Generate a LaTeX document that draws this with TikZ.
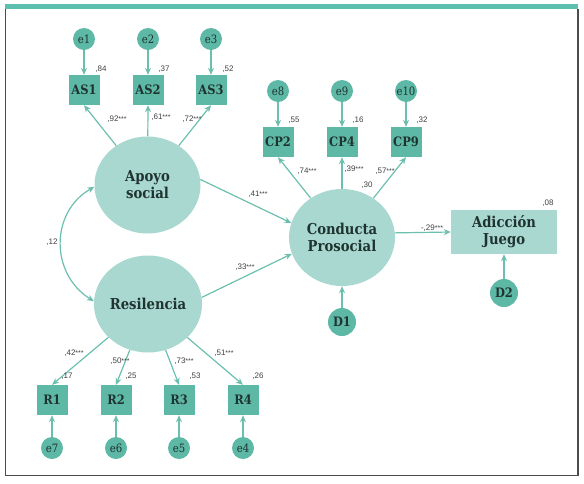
\documentclass[tikz,border=0pt]{standalone}
\usepackage{fontspec}
\setmainfont{DejaVu Serif}
\newfontfamily\slab[FakeStretch=0.88]{DejaVu Serif}
\newfontfamily\lblfont{Liberation Sans}
\usetikzlibrary{shapes.geometric,arrows.meta}
\definecolor{boxc}{HTML}{5DB8A6}
\definecolor{latc}{HTML}{A8D8CF}
\definecolor{arrc}{HTML}{6BBFAE}
\definecolor{txtc}{HTML}{1F3330}
\definecolor{barc}{HTML}{5DBFAE}
\newcommand{\st}{{\fontsize{7}{7}\selectfont***}}
\begin{document}
\begin{tikzpicture}[x=1pt,y=-1pt,
 obs/.style={fill=boxc, minimum width=31pt, minimum height=30pt, inner sep=0pt, font=\slab\bfseries\fontsize{13}{14}\selectfont, text=txtc},
 err/.style={circle, fill=boxc, minimum size=22pt, inner sep=0pt, font=\slab\fontsize{11.5}{12}\selectfont, text=txtc},
 dist/.style={circle, fill=boxc, minimum size=28pt, inner sep=0pt, font=\slab\bfseries\fontsize{13}{14}\selectfont, text=txtc},
 lat/.style={ellipse, fill=latc, minimum width=106pt, minimum height=97pt, inner sep=0pt, align=center, font=\slab\bfseries\fontsize{15}{17}\selectfont, text=txtc},
 lbl/.style={font=\lblfont\fontsize{8}{8}\selectfont, text=black!75, inner sep=0pt},
 arr/.style={draw=arrc, line width=1.2pt, -{Stealth[length=7pt,width=6pt]}},
]
\useasboundingbox (0,0) rectangle (584,483);
% frame
\fill[barc] (5,4) rectangle (578,9);
\draw[line width=1.2pt, black!70] (5.5,9) -- (5.5,475.5) -- (578,475.5) -- (578,9);

% latent variables
\node[lat] (Apoyo) at (147.5,185) {Apoyo\\social};
\node[lat] (Res) at (148,304) {Resilencia};
\node[lat] (Cond) at (342,237.5) {Conducta\\Prosocial};
\node[fill=latc, minimum width=106pt, minimum height=44pt, inner sep=0pt, align=center, font=\slab\bfseries\fontsize{15}{17}\selectfont, text=txtc] (Adic) at (504,232) {Adicción\\Juego};

% observed
\node[obs] (AS1) at (84,90) {AS1};
\node[obs] (AS2) at (148,90) {AS2};
\node[obs] (AS3) at (211,90) {AS3};
\node[obs] (CP2) at (278,142) {CP2};
\node[obs] (CP4) at (342,142) {CP4};
\node[obs] (CP9) at (406,142) {CP9};
\node[obs] (R1) at (52,400) {R1};
\node[obs] (R2) at (116,400) {R2};
\node[obs] (R3) at (179,400) {R3};
\node[obs] (R4) at (243,400) {R4};

% errors
\node[err] (e1) at (84,39) {e1};
\node[err] (e2) at (148,39) {e2};
\node[err] (e3) at (211,39) {e3};
\node[err] (e8) at (278,91) {e8};
\node[err] (e9) at (342,91) {e9};
\node[err] (e10) at (406,91) {e10};
\node[err] (e7) at (52,448) {e7};
\node[err] (e6) at (116,448) {e6};
\node[err] (e5) at (179,448) {e5};
\node[err] (e4) at (243,448) {e4};
\node[dist] (D1) at (342,322) {D1};
\node[dist] (D2) at (504,293) {D2};

% error arrows
\foreach \e/\o in {e1/AS1,e2/AS2,e3/AS3,e8/CP2,e9/CP4,e10/CP9,e7/R1,e6/R2,e5/R3,e4/R4,D1/Cond,D2/Adic}
  \draw[arr] (\e) -- (\o);

% loadings
\foreach \o in {AS1,AS2,AS3} \draw[arr] (Apoyo) -- (\o.south);
\foreach \o in {CP2,CP4,CP9} \draw[arr] (Cond) -- (\o.south);
\foreach \o in {R1,R2,R3,R4} \draw[arr] (Res) -- (\o.north);

% structural paths
\draw[arr] (Apoyo.6) -- (Cond.164);
\draw[arr] (Res.7) -- (Cond.198);
\draw[arr] (Cond.5) -- (Adic.west);
\draw[draw=arrc, line width=1.2pt, {Stealth[length=7pt,width=6pt]}-{Stealth[length=7pt,width=6pt]}] (Apoyo.182) .. controls (50,212) and (50,274) .. (Res.177);

% labels
\node[lbl] (l84) at (101,69) {,84};
\node[lbl] (l37) at (164,69) {,37};
\node[lbl] (l52) at (228,69) {,52};
\node[lbl] (l92) at (117,119) {,92\st};
\node[lbl] (l61) at (161,117) {,61\st};
\node[lbl] (l72) at (192,119) {,72\st};
\node[lbl] (l55) at (294,120) {,55};
\node[lbl] (l16) at (358,120) {,16};
\node[lbl] (l32) at (422,120) {,32};
\node[lbl] (l74) at (307,171) {,74\st};
\node[lbl] (l39) at (354,169) {,39\st};
\node[lbl] (l57) at (385,171) {,57\st};
\node[lbl] (l30) at (367,185) {,30};
\node[lbl] (l41) at (258,194) {,41\st};
\node[lbl] (l33) at (245,267) {,33\st};
\node[lbl] (l12) at (52,242) {,12};
\node[lbl] (l29) at (432,228) {-,29\st};
\node[lbl] (l08) at (548,203) {,08};
\node[lbl] (l42) at (74,353) {,42\st};
\node[lbl] (l50) at (120,361) {,50\st};
\node[lbl] (l73) at (184,361) {,73\st};
\node[lbl] (l51) at (224,353) {,51\st};
\node[lbl] (l17) at (67,376) {,17};
\node[lbl] (l25) at (131,376) {,25};
\node[lbl] (l53) at (195,376) {,53};
\node[lbl] (l26) at (258,376) {,26};
\end{tikzpicture}
\end{document}
